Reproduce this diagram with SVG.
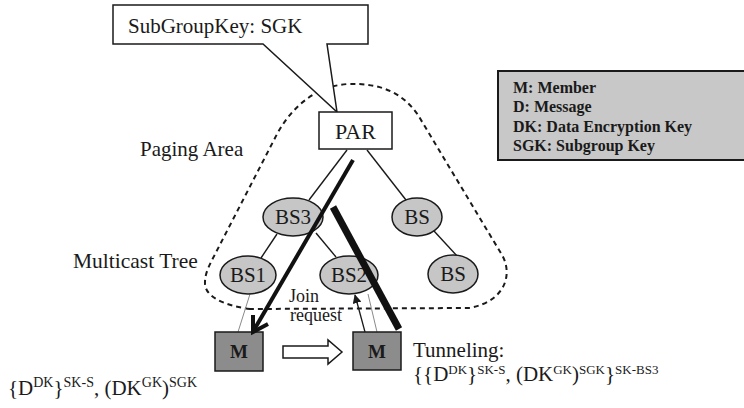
<svg xmlns="http://www.w3.org/2000/svg" width="744" height="408" viewBox="0 0 744 408">
<defs>
<style>
.t{font-family:"Liberation Serif","Times New Roman",serif;fill:#1a1a1a}
.node{fill:#c6c6c6;stroke:#1a1a1a;stroke-width:1.5}
.box{fill:#8c8c8c;stroke:#1a1a1a;stroke-width:1.5}
.edge{stroke:#1a1a1a;stroke-width:1.4;fill:none}
.thin{stroke:#8a8a8a;stroke-width:1;fill:none}
</style>
<marker id="ah" viewBox="0 0 10 10" refX="9" refY="5" markerWidth="9" markerHeight="9" markerUnits="userSpaceOnUse" orient="auto">
<path d="M0,0 L10,5 L0,10 Z" fill="#1a1a1a"/>
</marker>
</defs>
<rect width="744" height="408" fill="#ffffff"/>

<!-- Paging area -->
<g id="paging-area">
<path d="M250,309 C222,305 204,296 205,282 C205,275 208,268 211,262 L275,138 C290,108 315,86 348,84 C380,83 402,92 418,115 L502,255 C512,272 508,300 470,308 Z" fill="none" stroke="#1a1a1a" stroke-width="2" stroke-dasharray="5,4"/>
<text class="t" x="140" y="156" font-size="21">Paging Area</text>
<text class="t" x="73" y="268" font-size="21.5">Multicast Tree</text>
</g>

<!-- Callout -->
<g id="callout">
<path d="M113,5 L368,5 L368,44 L327,44 L337,112 L263,44 L113,44 Z" fill="#ffffff" stroke="#1a1a1a" stroke-width="1.5"/>
<text class="t" x="128" y="33" font-size="21">SubGroupKey: SGK</text>
</g>

<!-- Legend -->
<g id="legend">
<rect x="498" y="71" width="260" height="89" fill="#c8c8c8" stroke="#1a1a1a" stroke-width="2"/>
<text class="t" x="513" y="93" font-size="16" font-weight="bold">M: Member</text>
<text class="t" x="513" y="112" font-size="16" font-weight="bold">D: Message</text>
<text class="t" x="513" y="132" font-size="16" font-weight="bold">DK: Data Encryption Key</text>
<text class="t" x="513" y="151" font-size="16" font-weight="bold">SGK: Subgroup Key</text>
</g>

<!-- Tree edges -->
<g id="connectors">
<line class="edge" x1="347" y1="150" x2="309" y2="200"/>
<line class="edge" x1="367" y1="150" x2="406" y2="200"/>
<line class="edge" x1="277" y1="234" x2="261" y2="258"/>
<line class="edge" x1="316" y1="233" x2="336" y2="257"/>
<line class="edge" x1="434" y1="231" x2="458" y2="257"/>
<line class="thin" x1="250" y1="294" x2="238" y2="332"/>
<line class="thin" x1="368" y1="294" x2="377" y2="332"/>
</g>

<!-- Nodes -->
<g id="PAR">
<rect x="319" y="112" width="73" height="37" fill="#ffffff" stroke="#1a1a1a" stroke-width="1.5"/>
<text class="t" x="355.5" y="139" font-size="22" text-anchor="middle">PAR</text>
</g>
<g id="BS3">
<ellipse class="node" cx="293" cy="217" rx="30" ry="19"/>
<text class="t" x="293" y="224" font-size="21" text-anchor="middle">BS3</text>
</g>
<g id="BS-upper">
<ellipse class="node" cx="417" cy="217" rx="25" ry="19"/>
<text class="t" x="417" y="224" font-size="21" text-anchor="middle">BS</text>
</g>
<g id="BS1">
<ellipse class="node" cx="248" cy="275" rx="28" ry="19"/>
<text class="t" x="248" y="282" font-size="21" text-anchor="middle">BS1</text>
</g>
<g id="BS2">
<ellipse class="node" cx="349" cy="275" rx="29" ry="19"/>
<text class="t" x="349" y="282" font-size="21" text-anchor="middle">BS2</text>
</g>
<g id="BS-lower">
<ellipse class="node" cx="453" cy="274" rx="25" ry="19"/>
<text class="t" x="453" y="281" font-size="21" text-anchor="middle">BS</text>
</g>
<g id="M-left">
<rect class="box" x="215" y="332" width="48" height="39"/>
<text class="t" x="239" y="358" font-size="19" font-weight="bold" text-anchor="middle">M</text>
</g>
<g id="M-right">
<rect class="box" x="353" y="332" width="48" height="38"/>
<text class="t" x="377" y="358" font-size="19" font-weight="bold" text-anchor="middle">M</text>
</g>

<!-- Overlay connectors -->
<g id="flows">
<line x1="353" y1="160" x2="254" y2="330" stroke="#111" stroke-width="4"/>
<polyline points="253,315 253,332 268,324" fill="none" stroke="#111" stroke-width="4" stroke-linejoin="miter"/>
<line x1="333" y1="207" x2="399" y2="329" stroke="#111" stroke-width="7"/>
<line x1="365" y1="332" x2="355" y2="295" stroke="#1a1a1a" stroke-width="1.3" marker-end="url(#ah)"/>
<polygon points="283,346 328,346 328,340 342,352 328,364 328,358 283,358" fill="#ffffff" stroke="#1a1a1a" stroke-width="1.5"/>
<text class="t" x="289" y="302" font-size="18">Join</text>
<text class="t" x="290" y="321" font-size="18">request</text>
</g>

<!-- Messages -->
<g id="messages">
<text class="t" x="8" y="395" font-size="21">{D<tspan font-size="14" dy="-8">DK</tspan><tspan dy="8">}</tspan><tspan font-size="14" dy="-8">SK-S</tspan><tspan dy="8">, (DK</tspan><tspan font-size="14" dy="-8">GK</tspan><tspan dy="8">)</tspan><tspan font-size="14" dy="-8">SGK</tspan></text>
<text class="t" x="413" y="357" font-size="21">Tunneling:</text>
<text class="t" x="413" y="381" font-size="21">{{D<tspan font-size="13" dy="-7">DK</tspan><tspan dy="7">}</tspan><tspan font-size="13" dy="-7">SK-S</tspan><tspan dy="7">, (DK</tspan><tspan font-size="13" dy="-7">GK</tspan><tspan dy="7">)</tspan><tspan font-size="13" dy="-7">SGK</tspan><tspan dy="7">}</tspan><tspan font-size="13" dy="-7">SK-BS3</tspan></text>
</g>
</svg>
